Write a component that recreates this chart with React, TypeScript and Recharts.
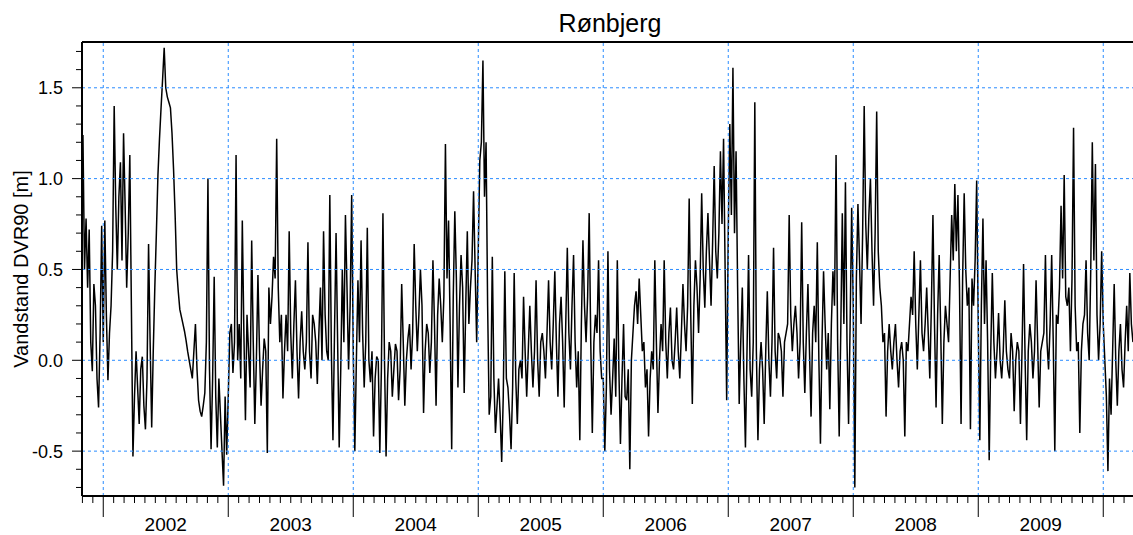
import React from 'react';
import { LineChart, Line, XAxis, YAxis, ReferenceLine } from 'recharts';

// water level samples, about 4.5 days (0.0125 yr) apart
const STEP = 0.0125;

const LEVEL_2001 = [0.62, 1.24, 0.50, 0.78, 0.40, 0.72, 0.10, -0.06, 0.42, 0.30, -0.10, -0.26, 0.15, 0.74];
const LEVEL_2002 = [
  0.10, 0.77, 0.25, -0.11, 0.15, 0.30, 0.60, 1.40, 0.85, 0.50,
  0.90, 1.09, 0.55, 1.25, 0.85, 0.40, 0.70, 1.13, 0.30, -0.53,
  -0.20, 0.05, -0.15, -0.35, -0.05, 0.02, -0.25, -0.38, -0.10, 0.64,
  0.10, -0.37, 0.05, 0.40, 0.70, 1.02, 1.22, 1.39, 1.55, 1.72,
  1.50, 1.45, 1.42, 1.39, 1.25, 1.05, 0.80, 0.50, 0.38, 0.28,
  0.24, 0.20, 0.16, 0.11, 0.05, 0.00, -0.05, -0.10, 0.05, 0.20,
  -0.05, -0.22, -0.28, -0.31, -0.25, -0.18, 0.10, 1.00, -0.05, -0.49,
  -0.10, 0.46, -0.20, -0.48, -0.10, -0.30, -0.50, -0.69, -0.20, -0.52,
];
const LEVEL_2003 = [
  -0.20, 0.15, 0.20, -0.07, 0.10, 1.13, 0.00, 0.20, -0.10, 0.77,
  0.15, -0.33, 0.25, 0.05, -0.15, 0.66, 0.10, -0.35, 0.00, 0.47,
  0.05, -0.25, -0.05, 0.12, 0.05, -0.51, 0.40, 0.20, 0.35, 0.57,
  0.45, 1.22, 0.40, 0.10, 0.25, -0.21, 0.05, 0.25, 0.05, 0.71,
  0.15, -0.10, 0.20, 0.44, 0.05, -0.21, 0.10, 0.27, 0.05, -0.05,
  0.10, 0.65, 0.05, -0.10, 0.25, 0.20, 0.10, -0.13, 0.15, 0.40,
  0.00, 0.71, 0.25, 0.05, 0.00, 0.91, 0.05, -0.44, 0.15, 0.70,
  0.10, -0.48, -0.05, 0.50, 0.10, 0.80, 0.40, -0.05, 0.30, 0.91,
];
const LEVEL_2004 = [
  0.05, -0.50, 0.00, 0.44, 0.10, 0.66, 0.15, -0.15, 0.10, 0.73,
  0.00, -0.12, 0.05, -0.42, -0.10, 0.02, 0.00, -0.51, -0.05, 0.81,
  0.00, -0.53, -0.10, 0.10, 0.05, -0.20, -0.05, 0.09, 0.05, -0.22,
  -0.05, 0.42, 0.10, -0.25, 0.00, 0.12, 0.20, -0.05, 0.15, 0.64,
  0.30, 0.05, 0.25, 0.50, 0.30, -0.29, 0.05, 0.20, 0.15, -0.07,
  0.10, 0.55, 0.20, -0.25, 0.25, 0.45, 0.30, 0.10, 0.35, 1.19,
  0.45, 0.77, 0.20, -0.49, 0.35, 0.82, 0.45, -0.15, 0.30, 0.58,
  0.40, -0.18, 0.30, 0.71, 0.20, 0.40, 0.55, 0.93, 0.50, 0.10,
];
const LEVEL_2005 = [
  0.60, 1.10, 1.20, 1.65, 0.90, 1.20, 0.30, -0.30, -0.20, 0.57,
  -0.10, -0.40, -0.25, -0.10, -0.30, -0.56, -0.20, 0.49, -0.10, -0.15,
  -0.30, -0.49, -0.15, 0.48, -0.10, -0.35, -0.05, 0.00, -0.10, 0.35,
  0.05, -0.20, 0.05, 0.30, 0.05, -0.15, 0.05, 0.44, 0.00, -0.20,
  0.10, 0.15, 0.05, -0.10, 0.15, 0.44, 0.10, -0.05, 0.20, 0.49,
  0.10, -0.20, 0.20, 0.35, 0.10, -0.26, 0.20, 0.62, 0.15, -0.05,
  0.30, 0.58, 0.10, -0.15, 0.05, -0.44, 0.20, 0.66, 0.30, 0.10,
  0.35, 0.81, 0.10, -0.40, 0.10, 0.25, 0.15, 0.55, 0.05, -0.10,
];
const LEVEL_2006 = [
  -0.10, -0.50, -0.15, 0.60, -0.05, -0.30, -0.10, 0.12, -0.20, 0.55,
  -0.05, -0.46, -0.10, 0.20, -0.20, -0.22, -0.05, -0.60, 0.00, 0.15,
  0.30, 0.38, 0.20, 0.45, 0.25, 0.05, 0.10, -0.15, -0.05, -0.42,
  -0.10, 0.05, -0.05, 0.55, 0.10, -0.29, 0.00, 0.20, 0.05, 0.55,
  0.10, -0.10, 0.15, 0.29, 0.00, -0.05, 0.10, 0.29, 0.05, -0.10,
  0.15, 0.42, 0.20, 0.05, 0.30, 0.89, 0.25, -0.24, 0.30, 0.55,
  0.40, 0.15, 0.45, 0.92, 0.50, 0.29, 0.60, 0.81, 0.55, 0.30,
  0.65, 1.07, 0.60, 0.45, 0.70, 1.15, 0.75, 1.22, 0.50, -0.22,
];
const LEVEL_2007 = [
  0.70, 1.30, 0.80, 1.61, 0.70, 1.15, 0.40, -0.24, 0.10, 0.40,
  -0.10, -0.48, 0.05, 0.58, -0.05, -0.20, 0.10, 1.42, 0.05, -0.44,
  -0.05, 0.10, -0.05, -0.35, 0.05, 0.38, 0.00, -0.20, 0.10, 0.62,
  0.05, -0.10, 0.15, 0.12, 0.05, -0.20, 0.10, 0.15, 0.20, 0.80,
  0.25, 0.05, 0.20, 0.30, 0.15, -0.10, 0.10, 0.76, 0.10, -0.18,
  0.15, 0.42, 0.05, -0.31, 0.15, 0.30, 0.10, 0.65, 0.00, -0.46,
  0.10, 0.49, 0.20, -0.05, 0.15, -0.27, 0.20, 0.49, 0.30, 1.13,
  0.10, -0.42, 0.15, 0.81, 0.20, 0.98, 0.10, -0.35, 0.20, 0.84,
];
const LEVEL_2008 = [
  0.30, -0.70, 0.45, 0.86, 0.55, 0.20, 0.70, 1.40, 0.75, 0.50,
  0.80, 1.00, 0.60, 0.30, 0.70, 1.37, 0.60, 0.40, 0.30, 0.10,
  0.15, -0.31, 0.05, 0.20, 0.05, -0.05, 0.10, 0.20, 0.00, -0.15,
  0.05, 0.10, 0.00, -0.42, 0.10, 0.05, 0.20, 0.35, 0.25, 0.60,
  0.20, -0.05, 0.25, 0.55, 0.15, 0.05, 0.20, 0.40, 0.15, -0.10,
  0.30, 0.80, 0.20, -0.26, 0.25, 0.58, 0.15, -0.35, 0.10, 0.30,
  0.20, 0.10, 0.45, 0.80, 0.55, 0.97, 0.60, 0.91, 0.40, -0.35,
  0.45, 0.92, 0.50, 0.30, 0.40, -0.38, 0.45, 0.30, 0.55, 0.99,
];
const LEVEL_2009 = [
  0.20, -0.44, 0.30, 0.78, 0.20, 0.55, 0.10, -0.55, 0.05, 0.48,
  0.10, -0.10, 0.05, 0.26, 0.00, -0.10, 0.05, 0.33, 0.05, -0.05,
  -0.10, 0.15, 0.05, -0.28, 0.00, 0.10, 0.05, -0.35, 0.05, 0.53,
  0.00, -0.44, 0.05, 0.20, 0.10, -0.10, 0.05, 0.44, 0.10, -0.26,
  0.05, 0.10, 0.15, 0.58, 0.10, -0.05, 0.20, 0.58, 0.10, -0.50,
  0.25, 0.20, 0.40, 0.85, 0.45, 1.02, 0.35, 0.30, 0.40, 0.05,
  0.45, 1.28, 0.30, 0.05, 0.10, -0.40, 0.05, 0.20, 0.25, 0.55,
  0.15, 0.00, 0.50, 1.20, 0.55, 1.08, 0.25, 0.00, 0.20, 0.60,
];
const LEVEL_2010 = [0.20, 0.00, -0.20, -0.61, -0.10, -0.30, 0.05, 0.42, 0.00, -0.25, 0.05, 0.20, -0.05, -0.15, 0.10, 0.30, 0.05, 0.48, 0.20, 0.10];

const YEARS = [2002, 2003, 2004, 2005, 2006, 2007, 2008, 2009];
const FULL_YEARS = [LEVEL_2002, LEVEL_2003, LEVEL_2004, LEVEL_2005, LEVEL_2006, LEVEL_2007, LEVEL_2008, LEVEL_2009];
const GRID_YEARS = [2002, 2003, 2004, 2005, 2006, 2007, 2008, 2009, 2010];
const GRID_LEVELS = [-0.5, 0, 0.5, 1.0, 1.5];

const X_MIN = 2001.83;
const X_MAX = 2010.238;
const Y_MIN = -0.747;
const Y_MAX = 1.752;

const data = [
  ...LEVEL_2001.map((v, i) => ({ t: 2002 - (LEVEL_2001.length - i) * STEP, v })),
  ...YEARS.flatMap((y, k) => FULL_YEARS[k].map((v, i) => ({ t: y + i * STEP, v }))),
  ...LEVEL_2010.map((v, i) => ({ t: 2010 + i * STEP, v })),
];

// month ticks on the time axis
const monthTicks: number[] = [];
for (let y = 2001; y <= 2010; y++) {
  for (let m = 0; m < 12; m++) {
    const t = y + m / 12;
    if (t >= X_MIN && t <= X_MAX) monthTicks.push(t);
  }
}
const levelTicks = Array.from({ length: 25 }, (_, i) => (i - 7) / 10);

const FONT = '"Liberation Sans", Arial, sans-serif';
const GRID = '#2a8cff';

const XTick = ({ x, y, payload }: any) => {
  const k = Math.round(payload.value * 12);
  const m = k % 12;
  const year = Math.floor(k / 12);
  return (
    <g>
      <line x1={x} x2={x} y1={y} y2={y + (m === 0 ? 21 : 7)} stroke="#000" strokeWidth={1} />
      {m === 6 && (
        <text x={x} y={y + 35} textAnchor="middle" fontSize={19} fontFamily={FONT} fill="#000">
          {year}
        </text>
      )}
    </g>
  );
};

const YTick = ({ x, y, payload }: any) => {
  const v = payload.value;
  const major = Math.abs(v * 2 - Math.round(v * 2)) < 1e-6;
  return (
    <g>
      <line x1={x - (major ? 10 : 6)} x2={x} y1={y} y2={y} stroke="#000" strokeWidth={1} />
      {major && (
        <text x={x - 19} y={y + 6.5} textAnchor="end" fontSize={18} fontFamily={FONT} fill="#000">
          {v.toFixed(1)}
        </text>
      )}
    </g>
  );
};

export default function App() {
  return (
    <div style={{ position: 'absolute', left: 0, top: 0, width: 1133, height: 535, background: '#fff' }}>
      <div
        style={{
          position: 'absolute', left: 610, top: 11, transform: 'translateX(-50%)',
          fontFamily: FONT, fontSize: 25, lineHeight: '25px', whiteSpace: 'nowrap', color: '#000',
        }}
      >
        Rønbjerg
      </div>
      <div
        style={{
          position: 'absolute', left: 21, top: 269, transform: 'translate(-50%, -50%) rotate(-90deg)',
          fontFamily: FONT, fontSize: 20, lineHeight: '20px', whiteSpace: 'nowrap', color: '#000',
        }}
      >
        Vandstand DVR90 [m]
      </div>
      <LineChart width={1133} height={535} data={data} margin={{ top: 42, right: 0, bottom: 0, left: 0 }}>
        <XAxis
          dataKey="t"
          type="number"
          domain={[X_MIN, X_MAX]}
          allowDataOverflow
          ticks={monthTicks}
          interval={0}
          height={39}
          tickSize={0}
          tickMargin={0}
          tickLine={false}
          axisLine={{ stroke: '#000', strokeWidth: 2 }}
          tick={(p: any) => <XTick {...p} />}
        />
        <YAxis
          type="number"
          domain={[Y_MIN, Y_MAX]}
          allowDataOverflow
          ticks={levelTicks}
          interval={0}
          width={82}
          tickSize={0}
          tickMargin={0}
          tickLine={false}
          axisLine={{ stroke: '#000', strokeWidth: 2 }}
          tick={(p: any) => <YTick {...p} />}
        />
        <Line
          dataKey="v"
          type="linear"
          stroke="#000"
          strokeWidth={1.5}
          strokeLinejoin="miter"
          dot={false}
          isAnimationActive={false}
        />
        {GRID_YEARS.map((y) => (
          <ReferenceLine key={'gx' + y} x={y} stroke={GRID} strokeDasharray="3 3" strokeWidth={1} />
        ))}
        {GRID_LEVELS.map((v) => (
          <ReferenceLine key={'gy' + v} y={v} stroke={GRID} strokeDasharray="3 3" strokeWidth={1} />
        ))}
        <ReferenceLine y={Y_MAX} stroke="#000" strokeWidth={2} />
      </LineChart>
    </div>
  );
}
